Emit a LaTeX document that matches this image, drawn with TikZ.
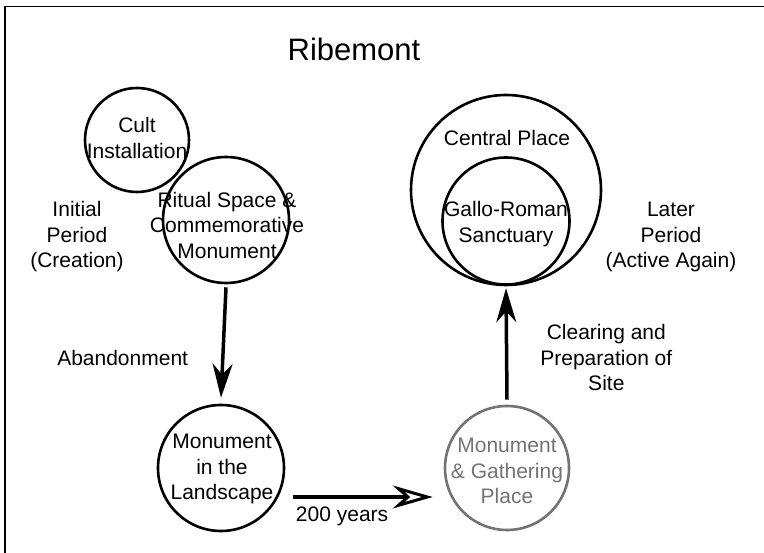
\documentclass[tikz,border=0pt]{standalone}
\usepackage{fontspec}
\setmainfont{Liberation Sans}
\usetikzlibrary{arrows.meta}
\definecolor{fade}{gray}{0.45}

\begin{document}
\begin{tikzpicture}[x=1pt,y=-1pt,
	ring/.style = {draw,circle,line width=2.6pt,inner sep=0pt},
	txt/.style = {align=center,font=\fontsize{21}{25.5}\selectfont,inner sep=0pt},
	flow/.style = {line width=3.5pt,-{Stealth[length=34pt,width=20pt,inset=11pt]}},
	drift/.style = {line width=3.5pt,-{Stealth[open,length=40pt,width=23pt,inset=13pt,line width=3pt]}}
	]
	\useasboundingbox (0,0) rectangle (764,553);
	\clip (0,0) rectangle (764,553);
	%\draw [help lines,step=50] (0,0) grid (764,553);
	%CORNICE
	\draw[line width=1.6pt] (5,6.5) rectangle (800,600);
	%TITOLO
	\node[font=\fontsize{31}{37}\selectfont] (title) at (354,49) {Ribemont};
	%CERCHI
	\node[ring,minimum size=104pt] (cult) at (137,140) {};
	\node[ring,minimum size=126pt] (ritual) at (226,220) {};
	\node[ring,minimum size=126pt] (landscape) at (221,468) {};
	\node[ring,minimum size=124pt,fade] (gathering) at (507,468) {};
	\node[ring,minimum size=190pt] (central) at (506,190) {};
	\node[ring,minimum size=127pt] (gallo) at (506,221) {};
	%TESTI NEI CERCHI
	\node[txt] (cult-t) at (137,138) {Cult\\Installation};
	\node[txt] (ritual-t) at (227,225) {Ritual Space \&\\Commemorative\\Monument};
	\node[txt] (landscape-t) at (222,469) {Monument\\in the\\Landscape};
	\node[txt,text=fade] (gathering-t) at (507,471) {Monument\\\& Gathering\\Place};
	\node[txt] (central-t) at (507,138) {Central Place};
	\node[txt] (gallo-t) at (506,224) {Gallo-Roman\\Sanctuary};
	%PERIODI
	\node[txt] (initial) at (77,237) {Initial\\Period\\(Creation)};
	\node[txt] (later) at (671,237) {Later\\Period\\(Active Again)};
	%FRECCE
	\draw[flow] ([yshift=-3pt]ritual.south) -- ([yshift=6pt]landscape.north)
		node [txt,pos=0.64,left=33pt] (abandon) {Abandonment};
	\draw[drift] ([xshift=8pt,yshift=-29pt]landscape.east) -- ([xshift=-11pt,yshift=-29pt]gathering.west)
		node [txt,pos=0.35,below=8pt] (years) {200 years};
	\draw[flow] ([yshift=5pt]gathering.north) -- ([yshift=-2pt]central.south)
		node [txt,pos=0.375,right=32pt] (clearing) {Clearing and\\Preparation of\\Site};
\end{tikzpicture}
\end{document}
